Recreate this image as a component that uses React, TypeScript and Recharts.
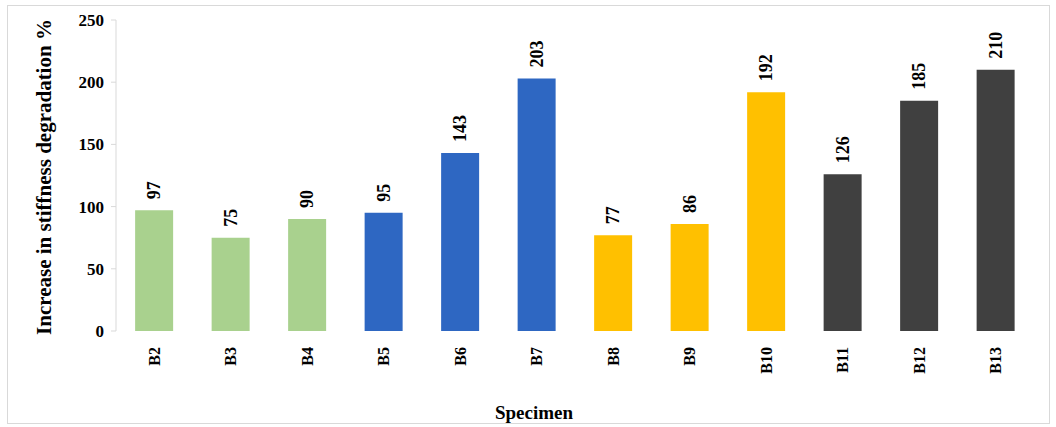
import React from "react";
import { BarChart, Bar, XAxis, YAxis, Cell, LabelList } from "recharts";

const specimens = ["B2", "B3", "B4", "B5", "B6", "B7", "B8", "B9", "B10", "B11", "B12", "B13"];
const increase = [97, 75, 90, 95, 143, 203, 77, 86, 192, 126, 185, 210];
const groupColors = ["#A9D18E", "#A9D18E", "#A9D18E", "#2E67C2", "#2E67C2", "#2E67C2", "#FFC000", "#FFC000", "#FFC000", "#404040", "#404040", "#404040"];
const yTicks = [0, 50, 100, 150, 200, 250];

const data = specimens.map((name, i) => ({ name, value: increase[i] }));

const FONT = '"Liberation Serif", "Times New Roman", serif';

const SpecimenTick = (props: any) => {
  const { x, y, payload } = props;
  return (
    <text
      x={x}
      y={y}
      transform={`rotate(-90, ${x}, ${y})`}
      textAnchor="end"
      dy="0.35em"
      fontFamily={FONT}
      fontWeight="bold"
      fontSize={16}
      fill="#000"
    >
      {payload.value}
    </text>
  );
};

// value printed vertically above each bar
const ValueLabel = (props: any) => {
  const { x, y, width, value } = props;
  const cx = x + width / 2;
  const cy = y - 11;
  return (
    <text
      x={cx}
      y={cy}
      transform={`rotate(-90, ${cx}, ${cy})`}
      textAnchor="start"
      dy="0.35em"
      fontFamily={FONT}
      fontWeight="bold"
      fontSize={18}
      fill="#000"
    >
      {value}
    </text>
  );
};

export default function App() {
  return (
    <div style={{ position: "absolute", left: 0, top: 0, width: 1056, height: 427, background: "#fff" }}>
      <div
        style={{
          position: "absolute",
          left: 7,
          top: 5,
          width: 1041,
          height: 417,
          border: "1.5px solid #d9d9d9",
        }}
      />
      <BarChart
        width={1056}
        height={427}
        data={data}
        margin={{ top: 20, right: 22, bottom: 36, left: 0 }}
        barCategoryGap="25%"
        style={{ position: "absolute", left: 0, top: 0 }}
      >
        <XAxis
          dataKey="name"
          axisLine={false}
          tickLine={false}
          interval={0}
          height={60}
          tickMargin={10}
          tick={<SpecimenTick />}
        />
        <YAxis
          domain={[0, 250]}
          ticks={yTicks}
          width={116}
          axisLine={{ stroke: "#d9d9d9" }}
          tickLine={{ stroke: "#d9d9d9" }}
          tickSize={5}
          tickMargin={7}
          tick={{ fill: "#000", fontFamily: FONT, fontWeight: "bold", fontSize: 17 }}
        />
        <Bar dataKey="value" isAnimationActive={false}>
          {data.map((d, i) => (
            <Cell key={d.name} fill={groupColors[i]} />
          ))}
          <LabelList dataKey="value" content={<ValueLabel />} />
        </Bar>
        <text
          x={44}
          y={177}
          transform="rotate(-90, 44, 177)"
          textAnchor="middle"
          dominantBaseline="central"
          fontFamily={FONT}
          fontWeight="bold"
          fontSize={21}
          fill="#000"
        >
          Increase in stiffness degradation %
        </text>
        <text
          x={534}
          y={412}
          textAnchor="middle"
          dominantBaseline="central"
          fontFamily={FONT}
          fontWeight="bold"
          fontSize={19}
          fill="#000"
        >
          Specimen
        </text>
      </BarChart>
    </div>
  );
}
